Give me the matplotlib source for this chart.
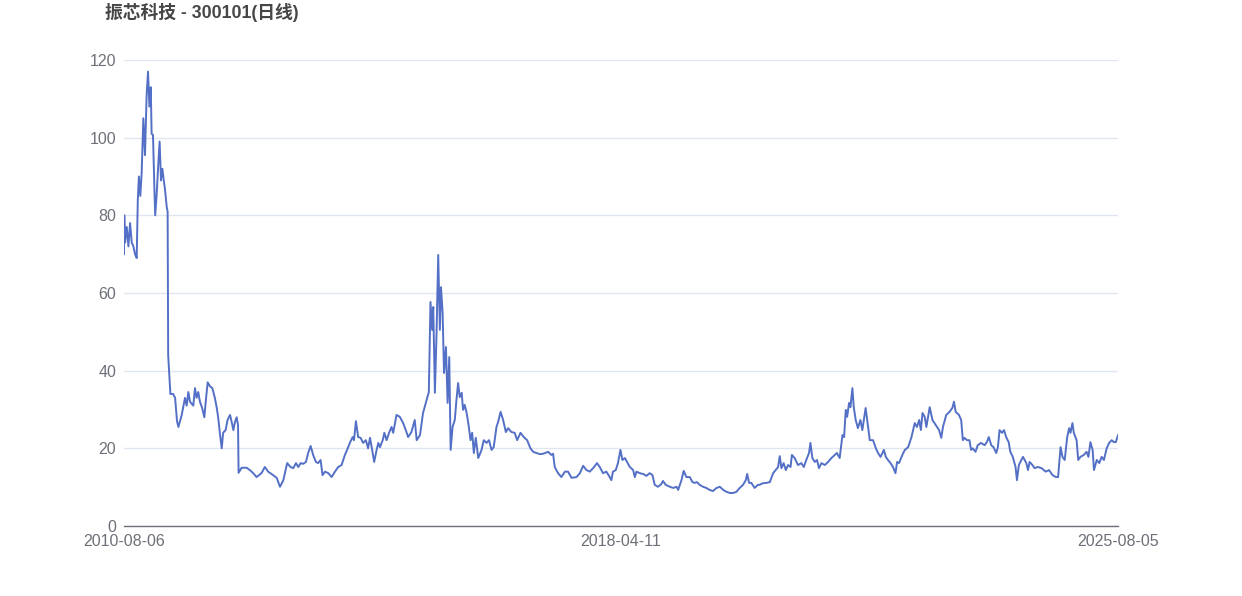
import matplotlib
matplotlib.use("Agg")
import matplotlib.pyplot as plt

plt.rcParams['font.family'] = ['Liberation Sans', 'Noto Sans CJK SC', 'DejaVu Sans']

title = '振芯科技 - 300101(日线)'
date_labels = ['2010-08-06', '2018-04-11', '2025-08-05']
y_ticks = [0, 20, 40, 60, 80, 100, 120]

# trading-day number (0 = 2010-08-06) and close price
day = [
    0, 1, 4, 10, 16, 22, 28, 34, 40, 46, 50, 54, 59, 64, 70, 76, 82, 87, 92, 97,
    100, 105, 110, 113, 118, 124, 129, 134, 139, 144, 148, 155, 158, 160, 164, 168,
    178, 185, 192, 197, 209, 221, 227, 233, 239, 251, 257, 263, 269, 275, 283, 291,
    296, 303, 311, 320, 329, 336, 341, 348, 354, 359, 368, 375, 384, 390, 396, 402,
    408, 413, 415, 426, 444, 456, 468, 480, 498, 510, 522, 540, 553, 565, 577, 591,
    603, 613, 623, 631, 640, 649, 659, 667, 676, 685, 695, 703, 712, 719, 728, 740,
    752, 764, 776, 788, 800, 808, 818, 828, 833, 840, 848, 857, 866, 876, 884, 891,
    900, 906, 915, 921, 927, 937, 943, 951, 960, 969, 975, 987, 999, 1011, 1023, 1029,
    1041, 1053, 1060, 1072, 1083, 1096, 1104, 1110, 1116, 1120, 1126, 1132, 1138, 1144,
    1148, 1154, 1159, 1166, 1172, 1178, 1183, 1190, 1198, 1204, 1210, 1216, 1223, 1228,
    1234, 1241, 1249, 1255, 1261, 1267, 1274, 1283, 1295, 1303, 1313, 1322, 1331, 1339,
    1349, 1355, 1364, 1373, 1383, 1391, 1403, 1415, 1424, 1436, 1448, 1460, 1472, 1482,
    1494, 1506, 1518, 1536, 1548, 1554, 1560, 1572, 1584, 1597, 1608, 1621, 1639, 1651,
    1663, 1675, 1687, 1699, 1713, 1723, 1735, 1747, 1759, 1765, 1771, 1781, 1789, 1798,
    1805, 1814, 1822, 1832, 1844, 1850, 1856, 1868, 1880, 1892, 1904, 1914, 1922, 1934,
    1946, 1952, 1962, 1977, 1989, 2001, 2007, 2019, 2027, 2037, 2049, 2059, 2067, 2075,
    2085, 2097, 2109, 2121, 2133, 2146, 2158, 2170, 2182, 2194, 2206, 2218, 2230, 2242,
    2252, 2257, 2264, 2272, 2284, 2296, 2302, 2313, 2327, 2339, 2351, 2360, 2369, 2375,
    2381, 2389, 2397, 2405, 2414, 2419, 2429, 2441, 2453, 2462, 2471, 2481, 2486, 2493,
    2502, 2510, 2517, 2526, 2538, 2550, 2562, 2574, 2582, 2592, 2602, 2608, 2614, 2619,
    2626, 2631, 2638, 2643, 2650, 2658, 2667, 2674, 2686, 2695, 2701, 2713, 2723, 2731,
    2740, 2752, 2759, 2767, 2776, 2785, 2794, 2800, 2807, 2819, 2828, 2840, 2852, 2864,
    2872, 2880, 2886, 2892, 2900, 2906, 2918, 2928, 2940, 2952, 2960, 2966, 2978, 2990,
    3000, 3006, 3012, 3024, 3032, 3038, 3044, 3053, 3062, 3068, 3074, 3084, 3092, 3104,
    3117, 3125, 3132, 3141, 3149, 3159, 3165, 3171, 3180, 3187, 3195, 3204, 3210, 3219,
    3229, 3234, 3241, 3250, 3256, 3262, 3268, 3274, 3280, 3290, 3298, 3310, 3323, 3338,
    3350, 3363, 3375, 3383, 3392, 3399, 3407, 3416, 3423, 3428, 3435, 3440, 3450, 3456,
    3464, 3476, 3486, 3493, 3500, 3508, 3513, 3523, 3532, 3541, 3549, 3559, 3568, 3577,
    3585, 3592, 3600,
]
close = [
    70, 80, 73, 77, 72, 78, 73, 72, 70, 69, 84, 90, 85, 91, 105, 95.5, 111, 117, 108, 113,
    101, 100.7, 87, 80, 85, 93, 99, 89, 92, 89, 87, 82, 81, 44, 39, 34,
    34, 33, 27, 25.5, 28.6, 33, 31, 34.5, 32, 31, 35.5, 33, 34.5, 32, 30.4, 28,
    32, 37, 36, 35.5, 33, 30.4, 28, 23.4, 20, 24, 24.7, 27.3, 28.6, 26.8, 24.7, 26.8,
    28, 26, 13.7, 15, 15, 14.4, 13.6, 12.6, 13.6, 15.2, 14, 13.1, 12.4, 10.1, 11.8, 16.2,
    15.2, 14.9, 16.2, 15.2, 16.2, 16, 16.5, 18.8, 20.6, 18.3, 16.5, 16.2, 17, 13.1, 14, 13.6,
    12.6, 14, 15.2, 15.7, 18.3, 19.6, 21.4, 22.9, 22.1, 27, 22.9, 22.7, 21.4, 22.1, 20, 22.7,
    19.1, 16.5, 19.6, 21.4, 20.3, 22.1, 24, 22.1, 24, 25.5, 24, 28.6, 28.1, 26.5, 24.2, 22.9,
    24.2, 27.3, 22.1, 23.4, 29.1, 32.4, 34.5, 57.7, 50.5, 56.4, 34.3, 49.7, 69.8, 50.5,
    61.5, 54.9, 39.4, 46.1, 31.7, 43.5, 19.6, 25.5, 27.3, 32.4, 36.8, 33.2, 34.3, 29.9,
    31.2, 29.1, 25.5, 22.1, 24, 18.8, 22.7, 17.5, 19.6, 22.1, 21.4, 22.1, 19.6, 20.3,
    25.5, 26.8, 29.4, 27.3, 24.2, 25.2, 24.2, 24, 22.1, 24, 22.9, 22.1, 20, 19.1,
    18.8, 18.5, 18.6, 19.1, 18.3, 18.6, 15.2, 13.6, 12.6, 14, 14, 12.4, 12.6, 13.6,
    15.5, 14.4, 14, 14.9, 16.2, 15.2, 13.6, 14, 12.6, 11.8, 14, 14.4, 16.2, 19.6,
    17, 17.5, 16.5, 15.2, 14.4, 12.6, 14, 13.6, 13.4, 12.9, 13.6, 13.1, 10.6, 10.1,
    10.8, 11.6, 10.6, 10.1, 9.8, 10.1, 9.3, 11.8, 14.2, 12.6, 12.6, 11.3, 11.1, 11.3,
    10.6, 10.1, 9.8, 9.3, 9, 9.8, 10.1, 9.3, 8.8, 8.5, 8.5, 8.8, 9.8, 10.6,
    11.8, 13.4, 11.1, 11.1, 9.8, 10.6, 10.6, 11, 11.1, 11.3, 13.6, 14.4, 15.2, 18,
    14.9, 16.2, 14.4, 15.7, 15.2, 18.3, 17.5, 15.7, 16.2, 15.2, 17, 18.8, 21.4, 17.5,
    16.5, 17, 14.9, 16.2, 15.7, 16.5, 17.5, 18.3, 18.8, 17.5, 23.4, 22.9, 29.9, 28.1,
    31.7, 30.6, 35.5, 30.6, 27.3, 25.2, 27.3, 24.7, 30.4, 25.5, 22.1, 22.1, 20, 18.8,
    17.8, 19.6, 17.8, 17, 16.2, 15.2, 13.6, 16.5, 16.2, 18.3, 19.6, 20.3, 22.9, 26.5,
    25.5, 27.3, 24.7, 29.1, 28.1, 25.5, 30.6, 27.3, 26, 24.7, 22.7, 25.5, 28.6, 29.4,
    30.4, 32, 29.4, 28.6, 27.3, 22.1, 22.7, 22.1, 22.1, 19.6, 20, 19.1, 20.8, 21.4,
    20.8, 21.6, 22.9, 20.8, 20.3, 18.8, 20.3, 24.7, 24, 24.7, 22.9, 21.6, 19.1, 17.8,
    15.2, 11.8, 15.7, 17, 17.8, 17, 16.2, 14.4, 16.5, 15.7, 14.9, 15.2, 14.9, 14,
    14.4, 13.1, 12.6, 12.6, 20.3, 17.8, 17, 22.9, 25.2, 24, 26.5, 24, 22.1, 17,
    17.8, 18.3, 19.1, 17.8, 21.6, 19.6, 14.4, 17, 16.2, 17.8, 17, 20, 21.4, 22.1,
    21.6, 21.6, 23.4,
]

fig = plt.figure(figsize=(12.42, 5.96), dpi=100)
ax = fig.add_axes([124 / 1242, 70 / 596, 994 / 1242, 466 / 596])

ax.plot(day, close, color='#5470c6', linewidth=1.4, solid_joinstyle='round')

ax.set_xlim(0, day[-1])
ax.set_ylim(0, 120)
ax.set_yticks(y_ticks)
ax.set_xticks([0, day[-1] / 2, day[-1]])
ax.set_xticklabels(date_labels)

ax.grid(axis='y', color='#e0e6f1', linewidth=1)
ax.set_axisbelow(True)
for side in ['top', 'right', 'left']:
    ax.spines[side].set_visible(False)
ax.spines['bottom'].set_color('#6e7079')
ax.spines['bottom'].set_linewidth(1)
ax.tick_params(axis='both', length=0, labelsize=11.5, labelcolor='#6e7079')
ax.tick_params(axis='y', pad=5.5)
ax.tick_params(axis='x', pad=6)

fig.text(105 / 1242, 1 - 13 / 596, title, fontsize=12.8, fontweight='bold',
         color='#464646', ha='left', va='center')

fig.savefig('out.png', dpi=100)
